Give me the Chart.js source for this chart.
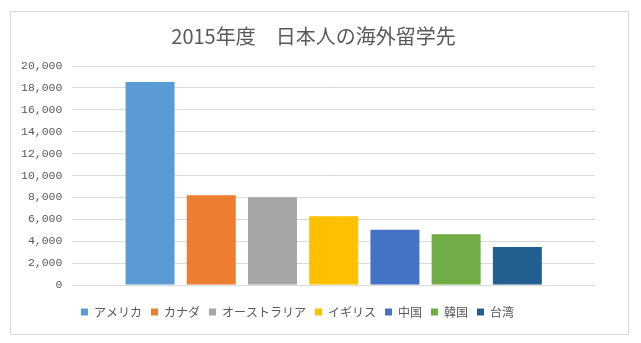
<!DOCTYPE html>
<html>
<head>
<meta charset="utf-8">
<script src="https://cdn.jsdelivr.net/npm/chart.js@4/dist/chart.umd.min.js"></script>
<style>
  body { margin: 0; background: #fff; }
  #box {
    position: absolute; left: 10px; top: 11px;
    width: 617px; height: 322px;
    border: 1px solid #d9d9d9; background: #fff;
  }
</style>
</head>
<body>
<div id="box"><canvas id="barChart"></canvas></div>
<script>
// 留学先ごとの人数
var countries = ['アメリカ', 'カナダ', 'オーストラリア', 'イギリス', '中国', '韓国', '台湾'];
var students = [18550, 8200, 8020, 6270, 5040, 4640, 3470];
var colors = ['#5B9BD5', '#ED7D31', '#A5A5A5', '#FFC000', '#4472C4', '#70AD47', '#255E91'];

// タイトルと凡例を枠の中央に寄せる
var centerBlocks = {
    id: 'centerBlocks',
    afterLayout: function(chart) {
        chart.titleBlock.left += 21;
        chart.legend.left -= 11;
    }
};

document.addEventListener("DOMContentLoaded", function() {
    var ctx = document.getElementById('barChart').getContext('2d');

    // 系列ごとに1本ずつ、同じ1カテゴリに並べる
    var datasets = countries.map(function(name, i) {
        return {
            label: name,
            data: [students[i]],
            backgroundColor: colors[i],
            barPercentage: 0.8,
            categoryPercentage: 0.82
        };
    });

    new Chart(ctx, {
        type: 'bar',
        data: {
            labels: [''],
            datasets: datasets
        },
        plugins: [centerBlocks],
        options: {
            responsive: true,
            maintainAspectRatio: false,
            animation: false,
            layout: { padding: { left: 0, right: 33, top: 0, bottom: 6 } },
            plugins: {
                title: {
                    display: true,
                    text: '2015年度　日本人の海外留学先',
                    color: '#595959',
                    font: { family: '"Noto Sans CJK JP"', size: 20, weight: 'normal' },
                    padding: { top: 12, bottom: 18 }
                },
                legend: {
                    position: 'bottom',
                    labels: {
                        color: '#595959',
                        font: { family: '"Noto Sans CJK JP"', size: 12 },
                        boxWidth: 7,
                        boxHeight: 7,
                        padding: 9
                    }
                },
                tooltip: { enabled: false }
            },
            scales: {
                x: {
                    grid: { display: false },
                    border: { display: false },
                    ticks: { display: false },
                    // 凡例との間を少し空ける
                    afterFit: function(scale) { scale.height += 4; }
                },
                y: {
                    min: 0,
                    max: 20000,
                    border: { display: false },
                    grid: { color: '#d9d9d9', drawTicks: false },
                    ticks: {
                        stepSize: 2000,
                        padding: 10,
                        color: '#595959',
                        font: { family: '"Liberation Mono"', size: 11.5 },
                        callback: function(v) { return v.toLocaleString('en-US'); }
                    }
                }
            }
        }
    });
});
</script>
</body>
</html>
